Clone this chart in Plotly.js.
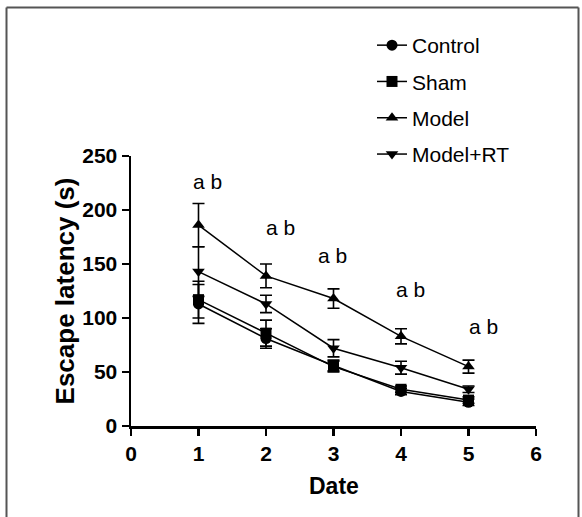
<!DOCTYPE html>
<html>
<head>
<meta charset="utf-8">
<script src="https://cdn.plot.ly/plotly-3.0.1.min.js"></script>
<style>html,body{margin:0;padding:0;background:#fff;}#chart{width:582px;height:517px;}</style>
</head>
<body>
<div id="chart"></div>
<script>
// Data
const days = [1, 2, 3, 4, 5];
const controlMean = [113, 81, 56, 32, 22];
const controlErr  = [18, 9, 5, 3, 3];
const shamMean    = [117, 86, 55, 34, 24];
const shamErr     = [17, 12, 5, 3, 3];
const modelMean   = [186, 139, 118, 83, 55];
const modelErr    = [20, 11, 9, 7, 6];
const modelRTMean = [143, 113, 72, 54, 34];
const modelRTErr  = [23, 8, 8, 6, 3];
const sigX = [1.14, 2.21, 2.99, 4.14, 5.22];
const sigY = [226, 184, 158, 126, 92];
const sigLabel = ["a b", "a b", "a b", "a b", "a b"];
const xTitle = "Date";
const yTitle = "Escape latency (s)";

const FONT = "Liberation Sans, Arial, Helvetica, sans-serif";

function mk(name, y, err, symbol) {
  return {
    type: "scatter", mode: "lines+markers", name: name, legendgroup: name,
    x: days, y: y,
    line: {color: "#000", width: 1.5},
    marker: {symbol: symbol, size: 11, color: "#000"},
    error_y: {type: "data", array: err, visible: true, color: "#000", thickness: 1.6, width: 6},
    cliponaxis: false
  };
}

const data = [
  mk("Control", controlMean, controlErr, "circle"),
  mk("Sham", shamMean, shamErr, "square"),
  mk("Model", modelMean, modelErr, "triangle-up"),
  mk("Model+RT", modelRTMean, modelRTErr, "triangle-down")
];

const L = 131, T = 156, W = 405, H = 270;
function px2x(p) { return (p - L) / W; }
function py2y(p) { return (T + H - p) / H; }

const annotations = sigX.map((x, i) => ({
  x: x, y: sigY[i], xref: "x", yref: "y", text: sigLabel[i], showarrow: false,
  font: {family: FONT, size: 21, color: "#000"}
}));
annotations.push({
  x: 0.5, y: py2y(486), xref: "paper", yref: "paper", xanchor: "center", yanchor: "middle",
  text: xTitle, showarrow: false, font: {family: FONT, size: 23, weight: "bold", color: "#000"}
});

const layout = {
  width: 582, height: 517,
  margin: {l: L, r: 582 - L - W, t: T, b: 517 - T - H, pad: 0},
  paper_bgcolor: "#fff", plot_bgcolor: "#fff",
  font: {family: FONT, color: "#000"},
  showlegend: true,
  legend: {
    x: px2x(372), y: py2y(25), xanchor: "left", yanchor: "top",
    font: {family: FONT, size: 21, color: "#000"},
    traceorder: "grouped", tracegroupgap: 6,
    bgcolor: "rgba(0,0,0,0)", borderwidth: 0
  },
  xaxis: {
    range: [0, 6], tickvals: [0, 1, 2, 3, 4, 5, 6], ticktext: ["0","1","2","3","4","5","6"],
    showgrid: false, zeroline: false, showline: true, linecolor: "#000", linewidth: 2.5,
    ticks: "outside", ticklen: 7, tickwidth: 2.5, tickcolor: "#000",
    tickfont: {family: FONT, size: 21, weight: "bold", color: "#000"},
    fixedrange: true
  },
  yaxis: {
    range: [0, 250], tickvals: [0, 50, 100, 150, 200, 250],
    showgrid: false, zeroline: false, showline: true, linecolor: "#000", linewidth: 2.5,
    ticks: "outside", ticklen: 7, tickwidth: 2.5, tickcolor: "#000",
    tickfont: {family: FONT, size: 21, weight: "bold", color: "#000"},
    title: {text: yTitle, font: {family: FONT, size: 26, weight: "bold", color: "#000"}, standoff: 0},
    fixedrange: true
  },
  annotations: annotations,
  shapes: [
    {type: "line", xref: "paper", yref: "paper", x0: px2x(6.5), x1: px2x(6.5), y0: py2y(7.5), y1: py2y(530), line: {color: "#555", width: 2}},
    {type: "line", xref: "paper", yref: "paper", x0: px2x(6.5), x1: px2x(578.5), y0: py2y(7.5), y1: py2y(7.5), line: {color: "#555", width: 2}},
    {type: "line", xref: "paper", yref: "paper", x0: px2x(578.5), x1: px2x(578.5), y0: py2y(7.5), y1: py2y(530), line: {color: "#555", width: 2}}
  ]
};

Plotly.newPlot("chart", data, layout, {displayModeBar: false, staticPlot: true});
</script>
</body>
</html>
